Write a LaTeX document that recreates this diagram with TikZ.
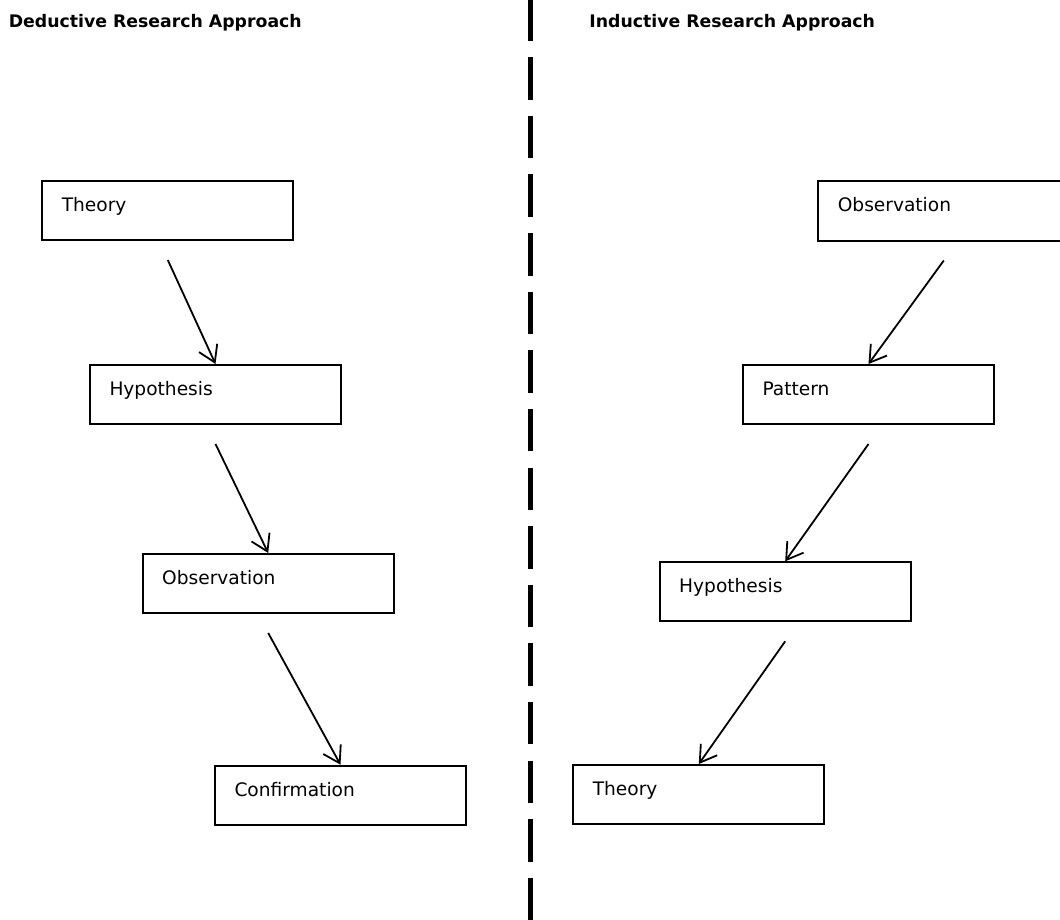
\documentclass[tikz,border=0pt]{standalone}
\usepackage{fontspec}
\setmainfont{DejaVu Sans}
\usetikzlibrary{positioning}
\usetikzlibrary{arrows.meta}
\begin{document}
\begin{tikzpicture}[x=1pt,y=-1pt,
		box/.style={draw,rectangle,line width=2pt,inner xsep=19.5pt,inner ysep=0pt,text width=212pt,align=left,text height=30.5pt,text depth=28.5pt,font=\fontsize{18.6pt}{22pt}\selectfont},
		flow/.style={-{Straight Barb[length=16pt,width=20pt]},line width=1.8pt},
		heading/.style={anchor=base west,inner sep=0pt,font=\fontsize{17.3pt}{21pt}\selectfont\bfseries}]
		\useasboundingbox (0,0) rectangle (1060,920);
		\node (headL) [heading] at (8.6,27.7) {Deductive Research Approach};
		\node (headR) [heading] at (589.2,27.7) {Inductive Research Approach};
		\draw [line width=5pt,dash pattern=on 42.5pt off 16.1pt] (530,-1.3) -- (530,925);
		\node (theoL) [box,anchor=north west] at (41.3,180) {Theory};
		\node (hypoL) [box,anchor=north west,below right=123pt and 47.7pt of theoL.south west] {Hypothesis};
		\node (obseL) [box,anchor=north west,below right=128pt and 52.7pt of hypoL.south west] {Observation};
		\node (confL) [box,anchor=north west,below right=150.7pt and 72.3pt of obseL.south west] {Confirmation};
		\node (obseR) [box,anchor=north west] at (817.3,180.5) {Observation};
		\node (pattR) [box,below left=122.5pt and 75.3pt of obseR.south east] {Pattern};
		\node (hypoR) [box,below left=136.3pt and 83.3pt of pattR.south east] {Hypothesis};
		\node (theoR) [box,below left=141.7pt and 86.4pt of hypoR.south east] {Theory};
		\draw [flow] ([yshift=-19pt]theoL.south) -- (hypoL.north);
		\draw [flow] ([yshift=-19pt]hypoL.south) -- (obseL.north);
		\draw [flow] ([yshift=-19pt]obseL.south) -- (confL.north);
		\draw [flow] ([yshift=-19pt]obseR.south) -- (pattR.north);
		\draw [flow] ([yshift=-19pt]pattR.south) -- (hypoR.north);
		\draw [flow] ([yshift=-19pt]hypoR.south) -- (theoR.north);
	\end{tikzpicture}
\end{document}
